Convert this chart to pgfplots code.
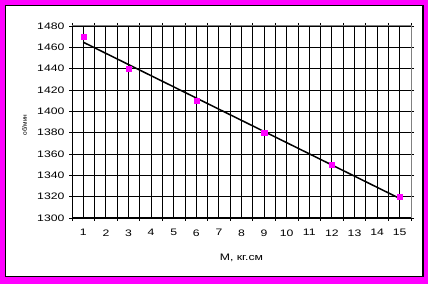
\documentclass[border=0pt]{standalone}
\usepackage{pgfplots}
\pgfplotsset{compat=1.18}
\usepackage{fontspec}
\setmainfont{Liberation Sans}
\definecolor{mag}{RGB}{255,0,255}
\begin{document}
\begin{tikzpicture}[x=1bp,y=1bp]
\fill[mag] (0,0) rectangle (428,284);
\fill[white,draw=black,line width=1.2bp] (5.5,7.5) rectangle (423,278.5);
\begin{axis}[
  at={(72bp,66bp)}, anchor=south west,
  scale only axis, width=339bp, height=192bp,
  xmin=0.5, xmax=15.5, ymin=1300, ymax=1480,
  xtick={1,...,15}, minor xtick={0.5,1.5,...,15.5},
  ytick={1300,1320,...,1480},
  grid=both,
  major grid style={black, line width=0.9bp},
  minor grid style={black, line width=0.9bp},
  axis line style={draw=none},
  tick align=outside,
  major tick length=3bp, minor tick length=3bp,
  x tick style={draw=none},
  minor x tick style={draw=black, line width=0.9bp},
  y tick style={draw=black, line width=0.9bp},
  tick label style={font=\fontsize{9.4bp}{10bp}\selectfont, xscale=1.3},
  /pgf/number format/assume math mode=true,
  /pgf/number format/set thousands separator={},
  xticklabel style={yshift=-5bp},
  xlabel={М, кг.см},
  xlabel style={font=\fontsize{9.4bp}{10bp}\selectfont, xscale=1.3, yshift=-11bp},
  clip=false,
]
\draw[gray, line width=1bp] (axis cs:0.5,1480) -- (axis cs:15.5,1480) -- (axis cs:15.5,1300);
\draw[black, line width=1bp] (axis cs:0.5,1480) -- (axis cs:0.5,1300) -- (axis cs:15.5,1300);
\addplot[only marks, mark=square*, mark size=2.6bp, mark options={draw=mag, fill=mag}] coordinates {
(1,1470) (3,1440) (6,1410) (9,1380) (12,1350) (15,1320)};
\addplot[black, line width=1.5bp, no marks] coordinates {(1,1464.8) (15,1318.3)};
\end{axis}
\node[rotate=90, font=\fontsize{6.5bp}{7bp}\selectfont] at (24.5,159) {об/мин};
\end{tikzpicture}
\end{document}
